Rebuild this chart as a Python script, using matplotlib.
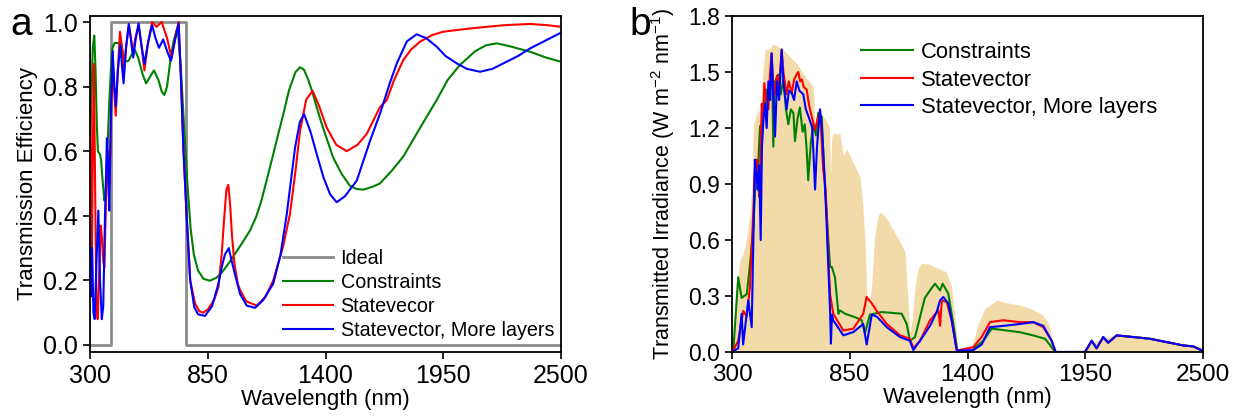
import matplotlib
matplotlib.use('Agg')
import matplotlib.pyplot as plt
import numpy as np

plt.rcParams['font.family'] = ['Liberation Sans', 'DejaVu Sans']
plt.rcParams['mathtext.fontset'] = 'custom'
plt.rcParams['mathtext.rm'] = 'Liberation Sans'

# ---- panel a: transmission efficiency ----
ideal_nm = [300, 400, 400, 750, 750, 2500]
ideal_t = [0, 0, 1, 1, 0, 0]

con_nm = [300, 306, 313, 320, 326, 332, 337, 347, 352, 360, 367, 373, 380, 390, 398, 405, 415,
          440, 452, 463, 480, 495, 510, 525, 545, 562, 580, 599, 620, 635, 647, 660, 675, 690,
          705, 712, 725, 740, 755, 770, 785, 805, 830, 860, 890, 920, 950, 980, 1010, 1047, 1075,
          1100, 1125, 1150, 1180, 1203, 1230, 1260, 1281, 1300, 1320, 1340, 1359, 1380, 1400,
          1436, 1475, 1514, 1545, 1577, 1620, 1654, 1710, 1763, 1800, 1840, 1880, 1919, 1970,
          2028, 2100, 2150, 2200, 2260, 2355, 2430, 2500]
con_t = [0.62, 0.75, 0.92, 0.958, 0.85, 0.68, 0.60, 0.59, 0.57, 0.50, 0.447, 0.46, 0.58, 0.75,
         0.86, 0.92, 0.935, 0.935, 0.91, 0.877, 0.88, 0.90, 0.913, 0.89, 0.84, 0.81, 0.83, 0.85,
         0.82, 0.785, 0.774, 0.80, 0.88, 0.94, 0.975, 0.96, 0.85, 0.67, 0.50, 0.36, 0.28, 0.23,
         0.205, 0.199, 0.208, 0.228, 0.255, 0.285, 0.315, 0.354, 0.395, 0.445, 0.51, 0.575, 0.655,
         0.715, 0.79, 0.845, 0.86, 0.852, 0.82, 0.78, 0.736, 0.69, 0.65, 0.58, 0.53, 0.493, 0.483,
         0.481, 0.49, 0.50, 0.54, 0.583, 0.625, 0.67, 0.715, 0.758, 0.82, 0.867, 0.91, 0.928,
         0.934, 0.925, 0.908, 0.89, 0.877]

sv_nm = [300, 304, 308, 313, 318, 323, 330, 336, 342, 350, 356, 362, 367, 375, 385, 392, 400,
         406, 412, 420, 430, 440, 450, 460, 470, 482, 492, 500, 512, 527, 540, 554, 570, 590,
         611, 635, 660, 681, 700, 714, 725, 736, 751, 768, 790, 810, 829, 850, 880, 900, 915,
         926, 937, 946, 955, 963, 975, 990, 1001, 1030, 1079, 1120, 1156, 1200, 1234, 1260,
         1281, 1310, 1340, 1370, 1405, 1450, 1499, 1550, 1592, 1654, 1686, 1720, 1763, 1800,
         1841, 1900, 1950, 2075, 2231, 2355, 2440, 2500]
sv_t = [0.90, 0.55, 0.20, 0.60, 0.87, 0.55, 0.12, 0.08, 0.20, 0.37, 0.33, 0.26, 0.24, 0.45,
        0.60, 0.50, 0.75, 0.88, 0.80, 0.71, 0.85, 0.97, 0.92, 0.857, 0.93, 0.99, 0.95, 0.905,
        0.95, 0.99, 0.93, 0.85, 0.93, 1.0, 0.985, 1.0, 0.95, 0.888, 0.96, 1.0, 0.82, 0.61, 0.405,
        0.20, 0.13, 0.105, 0.10, 0.11, 0.14, 0.18, 0.28, 0.385, 0.48, 0.496, 0.43, 0.34, 0.25,
        0.19, 0.17, 0.135, 0.122, 0.15, 0.20, 0.30, 0.405, 0.54, 0.663, 0.76, 0.787, 0.74, 0.674,
        0.62, 0.60, 0.62, 0.653, 0.736, 0.758, 0.82, 0.882, 0.915, 0.939, 0.96, 0.97, 0.98, 0.99,
        0.994, 0.99, 0.985]

ml_nm = [300, 304, 310, 316, 322, 330, 339, 347, 355, 362, 370, 379, 385, 390, 397, 406, 414,
         421, 430, 442, 450, 457, 468, 481, 490, 502, 514, 527, 540, 554, 572, 590, 606, 622,
         642, 660, 678, 696, 714, 725, 736, 751, 768, 787, 805, 837, 870, 900, 915, 930, 948,
         969, 1001, 1032, 1071, 1110, 1156, 1190, 1219, 1258, 1280, 1300, 1330, 1359, 1390,
         1421, 1452, 1490, 1546, 1608, 1654, 1700, 1733, 1780, 1826, 1870, 1919, 1960, 2013,
         2060, 2122, 2180, 2231, 2300, 2355, 2420, 2500]
ml_t = [0.385, 0.15, 0.30, 0.10, 0.08, 0.25, 0.416, 0.20, 0.08, 0.12, 0.40, 0.64, 0.55, 0.416,
        0.70, 0.91, 0.80, 0.74, 0.85, 0.93, 0.86, 0.81, 0.92, 0.994, 0.95, 0.89, 0.95, 0.995,
        0.93, 0.87, 0.94, 0.99, 0.95, 0.92, 0.946, 0.91, 0.88, 0.94, 0.996, 0.82, 0.61, 0.405,
        0.20, 0.117, 0.095, 0.09, 0.12, 0.19, 0.24, 0.28, 0.30, 0.24, 0.158, 0.122, 0.115, 0.14,
        0.19, 0.28, 0.405, 0.612, 0.69, 0.715, 0.66, 0.591, 0.52, 0.467, 0.442, 0.46, 0.509,
        0.632, 0.715, 0.81, 0.872, 0.94, 0.962, 0.95, 0.924, 0.895, 0.872, 0.855, 0.846, 0.855,
        0.872, 0.895, 0.918, 0.94, 0.967]

# ---- panel b: transmitted irradiance ----
am_nm = [300, 305, 312, 322, 330, 337, 350, 361, 372, 384, 393, 400, 410, 423, 432, 440, 454,
         470, 493, 540, 602, 640, 680, 688, 695, 720, 742, 755, 760, 766, 773, 804, 820, 836,
         867, 880, 898, 910, 921, 930, 940, 952, 965, 980, 991, 1020, 1050, 1080, 1108, 1118,
         1131, 1142, 1155, 1170, 1185, 1220, 1260, 1300, 1325, 1340, 1352, 1360, 1412, 1425,
         1450, 1480, 1536, 1600, 1650, 1700, 1750, 1780, 1801, 1810, 1950, 1970, 2000, 2050,
         2100, 2200, 2300, 2400, 2500]
am_irr = [0.0, 0.03, 0.12, 0.29, 0.42, 0.49, 0.52, 0.56, 0.64, 0.74, 0.90, 1.22, 1.25, 1.31,
          1.20, 1.45, 1.62, 1.62, 1.65, 1.62, 1.545, 1.48, 1.42, 1.20, 1.30, 1.27, 1.24, 1.20,
          0.95, 1.15, 1.17, 1.17, 1.05, 1.09, 1.01, 0.98, 0.94, 0.80, 0.60, 0.30, 0.25, 0.35,
          0.60, 0.72, 0.75, 0.72, 0.66, 0.60, 0.536, 0.35, 0.10, 0.18, 0.35, 0.45, 0.475, 0.47,
          0.45, 0.43, 0.35, 0.20, 0.05, 0.0, 0.0, 0.05, 0.15, 0.23, 0.277, 0.26, 0.25, 0.23,
          0.20, 0.15, 0.03, 0.0, 0.0, 0.04, 0.06, 0.08, 0.09, 0.085, 0.065, 0.045, 0.025]

tail_nm = [1949, 1980, 2003, 2034, 2057, 2097, 2175, 2252, 2330, 2408, 2455, 2500]
tail_irr = [0.0, 0.06, 0.02, 0.08, 0.05, 0.089, 0.08, 0.071, 0.053, 0.035, 0.03, 0.005]

bcon_nm = [300, 306, 329, 345, 369, 384, 400, 407, 415, 420, 431, 440, 446, 462, 477, 488, 493,
           498, 509, 516, 528, 540, 552, 563, 575, 587, 594, 606, 617, 630, 640, 649, 656, 668,
           680, 692, 703, 719, 734, 758, 766, 781, 797, 804, 828, 874, 906, 921, 944, 999, 1093,
           1116, 1131, 1155, 1186, 1201, 1225, 1248, 1272, 1284, 1310, 1334, 1352, 1412, 1474,
           1513, 1583, 1645, 1707, 1762, 1793, 1809, 1949] + tail_nm
bcon = [0.0, 0.008, 0.40, 0.29, 0.31, 0.47, 0.67, 0.85, 1.03, 0.95, 1.21, 1.15, 1.276, 1.405,
        1.40, 1.45, 1.10, 1.44, 1.47, 1.486, 1.38, 1.46, 1.30, 1.22, 1.30, 1.28, 1.13, 1.25,
        1.31, 1.18, 1.22, 1.08, 0.92, 1.12, 1.22, 1.16, 1.28, 1.26, 0.886, 0.456, 0.456, 0.40,
        0.205, 0.223, 0.205, 0.187, 0.17, 0.10, 0.20, 0.214, 0.205, 0.15, 0.06, 0.08, 0.223,
        0.29, 0.33, 0.366, 0.33, 0.366, 0.313, 0.15, 0.008, 0.0, 0.06, 0.125, 0.115, 0.106,
        0.089, 0.071, 0.026, 0.0, 0.0] + tail_irr

bsv_nm = [300, 306, 329, 353, 369, 384, 400, 408, 415, 422, 428, 435, 439, 445, 451, 460, 470,
          478, 485, 492, 500, 510, 520, 532, 540, 555, 565, 579, 590, 602, 610, 618, 626, 635,
          649, 656, 664, 675, 688, 700, 711, 718, 726, 735, 742, 750, 758, 773, 820, 867, 913,
          929, 953, 976, 1023, 1085, 1131, 1147, 1178, 1225, 1264, 1272, 1280, 1303, 1326, 1350,
          1427, 1466, 1505, 1567, 1645, 1707, 1754, 1793, 1812, 1949] + tail_nm
bsv = [0.0, 0.01, 0.06, 0.22, 0.19, 0.35, 0.76, 1.0, 1.03, 0.9, 0.83, 1.15, 1.33, 1.25, 1.44,
       1.35, 1.30, 1.5, 1.60, 1.45, 1.38, 1.48, 1.42, 1.62, 1.5, 1.38, 1.45, 1.387, 1.46, 1.486,
       1.5, 1.45, 1.46, 1.42, 1.405, 1.35, 1.30, 1.25, 1.19, 1.25, 1.28, 1.15, 0.975, 0.9, 0.76,
       0.5, 0.31, 0.205, 0.115, 0.125, 0.205, 0.295, 0.26, 0.22, 0.15, 0.089, 0.071, 0.02, 0.06,
       0.17, 0.223, 0.14, 0.277, 0.268, 0.17, 0.008, 0.026, 0.08, 0.16, 0.17, 0.16, 0.16, 0.133,
       0.06, 0.0, 0.0] + tail_irr

bml_nm = [300, 306, 329, 345, 352, 376, 392, 407, 415, 420, 427, 434, 440, 447, 454, 462, 470,
          478, 485, 492, 501, 510, 520, 532, 540, 555, 566, 579, 590, 602, 615, 633, 645, 664,
          675, 688, 697, 711, 720, 734, 745, 758, 762, 767, 773, 820, 867, 913, 929, 953, 976,
          1023, 1085, 1131, 1147, 1178, 1225, 1256, 1272, 1287, 1310, 1326, 1350, 1427, 1466,
          1505, 1567, 1645, 1707, 1754, 1793, 1812, 1949] + tail_nm
bml = [0.0, 0.005, 0.02, 0.205, 0.04, 0.277, 0.133, 1.03, 0.95, 0.87, 1.0, 0.60, 1.1, 1.25,
       1.33, 1.2, 1.45, 1.35, 1.60, 1.4, 1.154, 1.45, 1.35, 1.62, 1.45, 1.30, 1.40, 1.387, 1.35,
       1.45, 1.40, 1.38, 1.30, 1.24, 1.20, 0.87, 1.1, 1.30, 1.20, 0.904, 0.6, 0.223, 0.045, 0.2,
       0.17, 0.089, 0.107, 0.15, 0.04, 0.20, 0.19, 0.133, 0.08, 0.06, 0.01, 0.06, 0.14, 0.214,
       0.277, 0.295, 0.26, 0.17, 0.008, 0.01, 0.04, 0.133, 0.14, 0.15, 0.16, 0.14, 0.06, 0.0,
       0.0] + tail_irr

xticks = [300, 850, 1400, 1950, 2500]

fig = plt.figure(figsize=(12.4, 4.2), dpi=100)
ax1 = fig.add_axes([90 / 1240, 1 - 352 / 420, 471 / 1240, 336 / 420])
ax2 = fig.add_axes([732 / 1240, 1 - 352 / 420, 471 / 1240, 336 / 420])

lw = 1.5
ax1.plot(ideal_nm, ideal_t, color='#8c8c8c', lw=2, label='Ideal')
ax1.plot(con_nm, con_t, color='#008000', lw=lw, label='Constraints')
ax1.plot(sv_nm, sv_t, color='#ff0000', lw=lw, label='Statevecor')
ax1.plot(ml_nm, ml_t, color='#0000ff', lw=lw, label='Statevector, More layers')
ax1.set_xlim(300, 2500)
ax1.set_ylim(-0.0217, 1.0186)
ax1.set_yticks([0, 0.2, 0.4, 0.6, 0.8, 1.0])
ax1.set_yticklabels(['0.0', '0.2', '0.4', '0.6', '0.8', '1.0'])
ax1.set_ylabel('Transmission Efficiency', fontsize=16, labelpad=4)
ax1.tick_params(labelsize=18)
ax1.legend(loc='lower left', bbox_to_anchor=(0.377, -0.01), frameon=False, fontsize=14.2,
           handlelength=2.5, labelspacing=0.25, handletextpad=0.4, borderpad=0.3)

ax2.fill_between(am_nm, am_irr, 0, color='#f2dba9', lw=0)
ax2.plot(bcon_nm, bcon, color='#008000', lw=lw, label='Constraints')
ax2.plot(bsv_nm, bsv, color='#ff0000', lw=lw, label='Statevector')
ax2.plot(bml_nm, bml, color='#0000ff', lw=lw, label='Statevector, More layers')
ax2.set_xlim(300, 2500)
ax2.set_ylim(0, 1.8)
ax2.set_yticks([0, 0.3, 0.6, 0.9, 1.2, 1.5, 1.8])
ax2.set_yticklabels(['0.0', '0.3', '0.6', '0.9', '1.2', '1.5', '1.8'])
ax2.set_ylabel('Transmitted Irradiance (W m$^{-2}$ nm$^{-1}$)', fontsize=15.5, labelpad=8)
ax2.tick_params(axis='y', labelsize=16.5)
ax2.tick_params(axis='x', labelsize=17.5)
ax2.legend(loc='upper left', bbox_to_anchor=(0.236, 0.975), frameon=False, fontsize=15.8,
           handlelength=2.4, labelspacing=0.3, handletextpad=0.35, borderpad=0.3)

for ax in (ax1, ax2):
    ax.set_xticks(xticks)
    ax.set_xlabel('Wavelength (nm)', fontsize=16, labelpad=1)
    ax.tick_params(direction='out', length=5, width=1.2)
    for s in ax.spines.values():
        s.set_linewidth(1.3)

fig.text(21 / 1240, 1 - 25 / 420, 'a', fontsize=28, va='center', ha='center')
fig.text(640 / 1240, 1 - 25 / 420, 'b', fontsize=28, va='center', ha='center')

fig.savefig('out.png', dpi=100)
